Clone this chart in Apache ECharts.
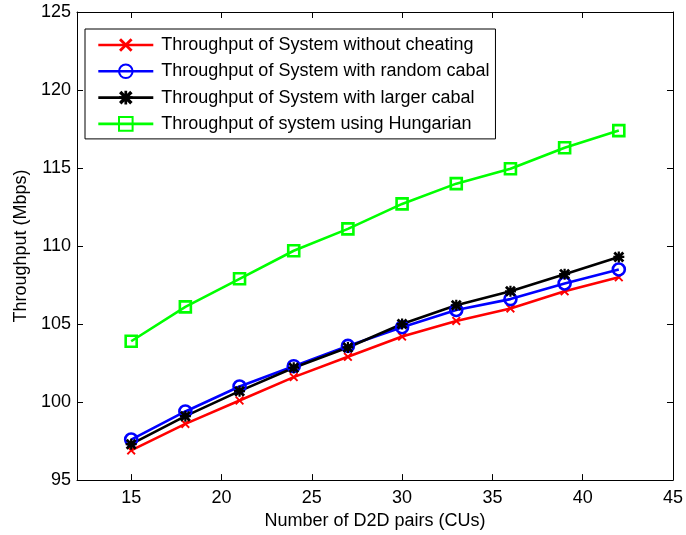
<!DOCTYPE html>
<html>
<head>
<meta charset="utf-8">
<script src="https://cdn.jsdelivr.net/npm/echarts@6/dist/echarts.min.js"></script>
<style>
  html, body { margin: 0; padding: 0; background: #fff; }
  #chart { width: 686px; height: 535px; }
</style>
</head>
<body>
<div id="chart"></div>
<script>
// Number of D2D pairs
const pairs = [15, 18, 21, 24, 27, 30, 33, 36, 39, 42];
// Throughput (Mbps) per scheme
const noCheating   = [96.9, 98.6, 100.1, 101.6, 102.9, 104.2, 105.2, 106.0, 107.1, 108.0];
const randomCabal  = [97.6, 99.4, 101.0, 102.3, 103.6, 104.8, 105.9, 106.6, 107.6, 108.5];
const largerCabal  = [97.3, 99.1, 100.7, 102.2, 103.5, 105.0, 106.2, 107.1, 108.2, 109.3];
const hungarian    = [103.9, 106.1, 107.9, 109.7, 111.1, 112.7, 114.0, 114.95, 116.3, 117.4];
// Tick labels
const xTicks = [15, 20, 25, 30, 35, 40, 45];
const yTicks = [95, 100, 105, 110, 115, 120, 125];

const FONT = 'Liberation Sans, Arial, Helvetica, sans-serif';
const crossPath = 'path://M0,1.5L1.5,0L5,3.5L8.5,0L10,1.5L6.5,5L10,8.5L8.5,10L5,6.5L1.5,10L0,8.5L3.5,5Z';
const starPath = 'path://M0,1.8L1.8,0L5,3.2L8.2,0L10,1.8L6.8,5L10,8.2L8.2,10L5,6.8L1.8,10L0,8.2L3.2,5Z' +
                 'M4,0L6,0L6,4L10,4L10,6L6,6L6,10L4,10L4,6L0,6L0,4L4,4Z';

function pts(ys) { return pairs.map((x, i) => [x, ys[i]]); }

function axisCommon(extra) {
  return Object.assign({
    axisLine: { show: true, onZero: false, lineStyle: { color: '#000', width: 1 } },
    splitLine: { show: false }
  }, extra);
}

const chart = echarts.init(document.getElementById('chart'), null, { renderer: 'canvas' });
chart.setOption({
  animation: false,
  backgroundColor: '#fff',
  grid: { left: 77, right: 13, top: 12, bottom: 53, containLabel: false },
  legend: {
    orient: 'vertical',
    left: 85,
    top: 29,
    padding: [7, 6, 6, 12],
    itemWidth: 55,
    itemHeight: 17,
    itemGap: 8.3,
    borderColor: '#000',
    borderWidth: 1,
    backgroundColor: '#fff',
    lineStyle: { width: 2.6 },
    textStyle: { fontFamily: FONT, fontSize: 18, lineHeight: 18, color: '#000', padding: [0, 0, 0, 3] },
    data: [
      'Throughput of System without cheating',
      'Throughput of System with random cabal',
      'Throughput of System with larger cabal',
      'Throughput of system using Hungarian'
    ]
  },
  xAxis: [
    axisCommon({
      type: 'value', min: 12, max: 45, position: 'bottom',
      name: 'Number of D2D pairs (CUs)', nameLocation: 'middle', nameGap: 29,
      nameTextStyle: { fontFamily: FONT, fontSize: 18, color: '#000' },
      axisTick: { show: true, inside: true, length: 6, customValues: xTicks, lineStyle: { color: '#000' } },
      axisLabel: { show: true, customValues: xTicks, margin: 9, fontFamily: FONT, fontSize: 18, color: '#000' }
    }),
    axisCommon({
      type: 'value', min: 12, max: 45, position: 'top',
      axisTick: { show: true, inside: true, length: 6, customValues: xTicks, lineStyle: { color: '#000' } },
      axisLabel: { show: false }
    })
  ],
  yAxis: [
    axisCommon({
      type: 'value', min: 95, max: 125, interval: 5, position: 'left',
      name: 'Throughput (Mbps)', nameLocation: 'middle', nameGap: 44,
      nameTextStyle: { fontFamily: FONT, fontSize: 18, color: '#000' },
      axisTick: { show: true, inside: true, length: 6, lineStyle: { color: '#000' } },
      axisLabel: { show: true, margin: 6, fontFamily: FONT, fontSize: 18, color: '#000',
                   formatter: v => (yTicks.indexOf(v) >= 0 ? String(v) : '') }
    }),
    axisCommon({
      type: 'value', min: 95, max: 125, interval: 5, position: 'right',
      axisTick: { show: true, inside: true, length: 6, lineStyle: { color: '#000' } },
      axisLabel: { show: false }
    })
  ],
  series: [
    {
      name: 'Throughput of System without cheating', type: 'line', data: pts(noCheating),
      symbol: crossPath, symbolSize: 9,
      lineStyle: { color: '#ff0000', width: 2.6 },
      itemStyle: { color: '#ff0000' }
    },
    {
      name: 'Throughput of System with random cabal', type: 'line', data: pts(randomCabal),
      symbol: 'circle', symbolSize: 12,
      lineStyle: { color: '#0000ff', width: 2.6 },
      itemStyle: { color: 'rgba(0,0,0,0)', borderColor: '#0000ff', borderWidth: 2.6 }
    },
    {
      name: 'Throughput of System with larger cabal', type: 'line', data: pts(largerCabal),
      symbol: starPath, symbolSize: 11,
      lineStyle: { color: '#000000', width: 2.6 },
      itemStyle: { color: '#000000' }
    },
    {
      name: 'Throughput of system using Hungarian', type: 'line', data: pts(hungarian),
      symbol: 'rect', symbolSize: 11,
      lineStyle: { color: '#00ff00', width: 2.6 },
      itemStyle: { color: 'rgba(0,0,0,0)', borderColor: '#00ff00', borderWidth: 2.6 }
    }
  ]
});
</script>
</body>
</html>
